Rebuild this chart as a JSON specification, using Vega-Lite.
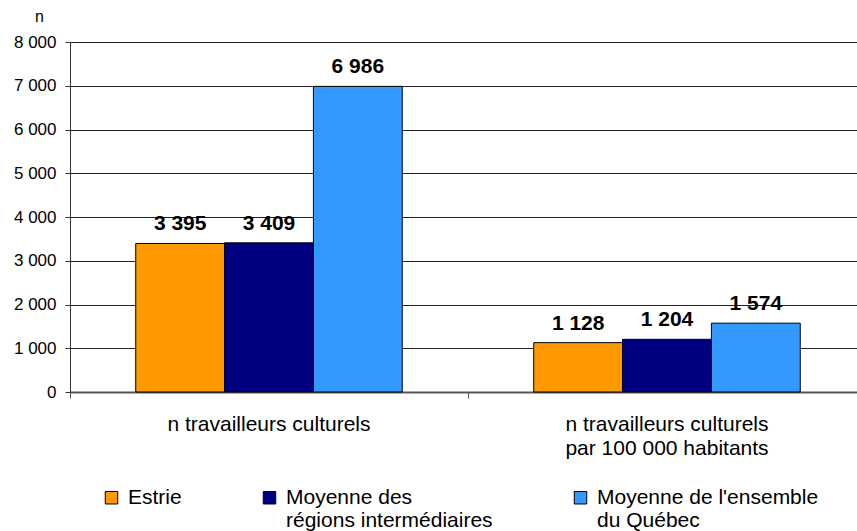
{
  "$schema": "https://vega.github.io/schema/vega-lite/v6.json",
  "width": 787,
  "height": 350,
  "autosize": {"type": "none"},
  "padding": {"left": 70, "top": 42, "right": 0, "bottom": 139},
  "background": "white",
  "config": {
    "locale": {"number": {"decimal": ",", "thousands": " ", "grouping": [3], "currency": ["", " $"]}},
    "font": "Liberation Sans",
    "view": {"stroke": null},
    "axis": {"labelFont": "Liberation Sans", "titleFont": "Liberation Sans"},
    "legend": {"labelFont": "Liberation Sans"}
  },
  "data": {
    "values": [
      {"cat": "n travailleurs culturels", "series": "Estrie", "value": 3395},
      {"cat": "n travailleurs culturels", "series": "Moyenne des régions intermédiaires", "value": 3409},
      {"cat": "n travailleurs culturels", "series": "Moyenne de l'ensemble du Québec", "value": 6986},
      {"cat": "n travailleurs culturels|par 100 000 habitants", "series": "Estrie", "value": 1128},
      {"cat": "n travailleurs culturels|par 100 000 habitants", "series": "Moyenne des régions intermédiaires", "value": 1204},
      {"cat": "n travailleurs culturels|par 100 000 habitants", "series": "Moyenne de l'ensemble du Québec", "value": 1574}
    ]
  },
  "encoding": {
    "x": {
      "field": "cat", "type": "nominal", "sort": null,
      "scale": {"range": [0, 796], "paddingInner": 0, "paddingOuter": 0},
      "axis": {
        "title": null, "labelAngle": 0, "labelFontSize": 21, "labelColor": "#000",
        "labelExpr": "split(datum.label, '|')", "labelLineHeight": 24, "labelLimit": 500,
        "labelPadding": 15, "bandPosition": 0, "tickSize": 6, "tickColor": "#555",
        "domainColor": "#555", "domainWidth": 2, "labelBaseline": "top"
      }
    },
    "xOffset": {
      "field": "series", "type": "nominal", "sort": null,
      "scale": {"paddingInner": 0, "paddingOuter": 0.74}
    },
    "y": {
      "field": "value", "type": "quantitative",
      "scale": {"domain": [0, 8000], "nice": false},
      "axis": {
        "values": [0, 1000, 2000, 3000, 4000, 5000, 6000, 7000, 8000],
        "format": ",d", "labelFontSize": 17, "labelColor": "#000",
        "gridColor": "#222", "gridWidth": 1, "tickColor": "#333", "tickSize": 5,
        "domainColor": "#333", "labelPadding": 9,
        "title": "n", "titleAngle": 0, "titleFontSize": 16, "titleFontWeight": "normal",
        "titleX": -31, "titleY": -26, "titleAlign": "center", "titleBaseline": "middle"
      }
    }
  },
  "layer": [
    {
      "mark": {"type": "bar", "stroke": "#000", "strokeWidth": 1},
      "encoding": {
        "color": {
          "field": "series", "type": "nominal", "sort": null,
          "scale": {
            "domain": ["Estrie", "Moyenne des régions intermédiaires", "Moyenne de l'ensemble du Québec"],
            "range": ["#FF9900", "#000080", "#3399FF"]
          },
          "legend": {
            "title": null, "orient": "none", "legendX": 31, "legendY": 445,
            "direction": "horizontal", "columns": 3, "columnPadding": 77,
            "symbolType": "square", "symbolSize": 156, "symbolStrokeColor": "#000",
            "symbolStrokeWidth": 1, "labelFontSize": 21, "labelColor": "#000",
            "labelLimit": 300, "labelOffset": 6, "padding": 0,
            "labelExpr": "datum.label == 'Estrie' ? ['Estrie', ''] : (datum.label == 'Moyenne des régions intermédiaires' ? ['Moyenne des', 'régions intermédiaires'] : ['Moyenne de l\\'ensemble', 'du Québec'])",
            "labelLineHeight": 24
          }
        }
      }
    },
    {
      "mark": {"type": "text", "fontWeight": "bold", "fontSize": 21, "baseline": "alphabetic", "dy": -13, "color": "#000"},
      "encoding": {
        "text": {"field": "value", "type": "quantitative", "format": ",d"}
      }
    }
  ]
}
